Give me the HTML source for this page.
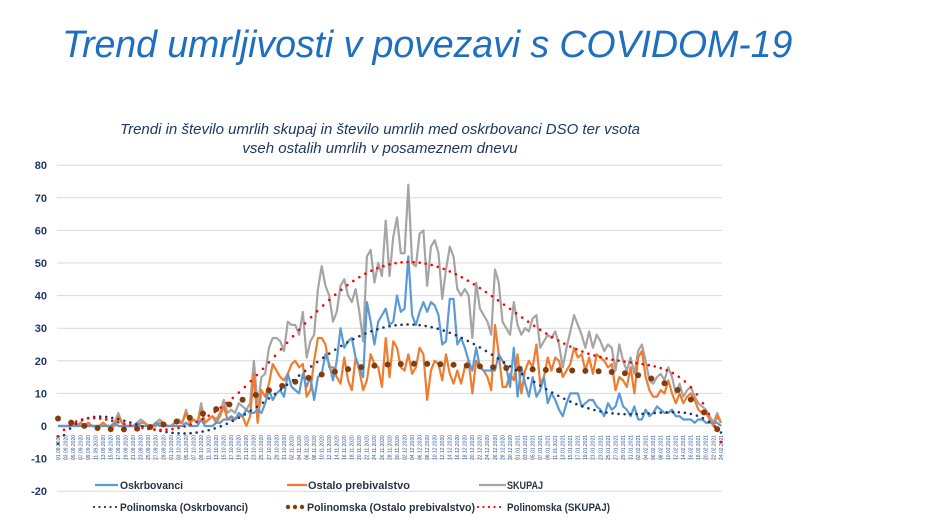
<!DOCTYPE html>
<html><head><meta charset="utf-8"><style>
body{margin:0;background:#fff;width:940px;height:529px;overflow:hidden;font-family:"Liberation Sans",sans-serif}
#title{position:absolute;left:62px;top:23px;font-size:37.6px;font-style:italic;color:#1F6FC0;letter-spacing:-0.1px;white-space:nowrap}
svg{position:absolute;left:0;top:0}
</style></head><body>
<div id="title">Trend umrljivosti v povezavi s COVIDOM-19</div>
<svg id="chart" width="940" height="529"></svg>
<script>
const startDate=[2020,8,1];
const nDays=177;
const osk=[0,0,0,0,0,0,0,0,0,0, 0,0,0,0,0,1,0,0,0,0, 0,1,0,0,0,0,1,0,0,0, 0,0,0,0,1,0,0,0,2,0,
0,0,1,1,2,2,3,2,4,3, 5,4,4,5,4,7,11,8,10,11, 9,16,12,11,10,16,12,15,8,15,
16,22,19,14,20,30,24,26,27,21, 18,15,38,32,25,32,34,36,31,32, 40,35,36,52,34,31,35,38,35,38,
37,34,25,26,39,39,25,27,24,20, 17,24,18,17,17,17,17,22,20,18, 12,24,9,18,13,9,15,9,11,15,
7,10,8,5,3,7,10,10,10,6, 7,8,8,6,5,3,7,5,6,10, 6,5,3,6,2,2,5,3,4,6, 5,4,4,5,3,3,2,2,2,1, 2,2,1,1,1,1,0];
const ost=[0,0,0,0,1,0,1,0,1,0, 0,0,1,0,0,0,3,1,0,0, 0,0,1,1,0,0,0,1,1,0, 0,1,1,1,4,1,2,1,5,1,
2,3,1,3,6,2,2,2,3,3, 0,3,16,1,11,9,13,19,17,15, 14,16,19,20,18,19,9,11,20,27,
27,25,18,18,15,13,21,14,11,21, 17,11,14,22,19,18,12,27,15,26, 24,18,17,22,16,18,24,22,8,17,
20,19,14,22,16,13,17,13,18,20, 10,20,18,17,15,11,31,22,12,12, 16,14,22,10,17,20,18,25,13,15,
21,17,21,20,15,17,19,24,21,22, 17,21,16,22,21,20,18,19,11,15, 14,12,18,10,21,23,15,11,9,9, 11,10,14,10,7,10,7,9,10,8, 5,4,4,2,0,3,1];
const sk=[0,0,0,0,1,0,1,0,1,0, 0,0,1,0,0,1,4,1,0,0, 0,1,2,1,0,0,1,2,1,0, 0,1,2,1,5,1,2,1,7,1,
2,3,2,4,8,4,5,4,7,6, 5,7,20,6,15,16,24,27,27,26, 23,32,31,31,28,35,21,26,28,42,
49,43,40,32,35,43,45,40,38,42, 35,26,52,54,44,50,46,63,46,58, 64,53,53,74,50,49,59,60,43,55,
57,53,39,48,55,52,42,40,42,40, 27,44,36,34,32,28,48,44,32,30, 28,38,31,28,30,29,33,34,24,26,
28,27,29,25,18,24,29,34,31,28, 24,29,24,28,26,23,25,24,17,25, 20,17,21,16,23,25,20,14,13,15, 16,14,18,15,10,13,9,11,12,9, 7,6,5,3,1,4,1];
const yTicks=[80,70,60,50,40,30,20,10,0,-10,-20];

const svg=document.getElementById('chart');
const NS='http://www.w3.org/2000/svg';
const X0=58,X1=721,Y0=426,PER=3.26;
const xs=i=>X0+i*(X1-X0)/(nDays-1);
const ys=v=>Y0-v*PER;
function mk(t,a,p){const e=document.createElementNS(NS,t);for(const k in a)e.setAttribute(k,a[k]);(p||svg).appendChild(e);return e;}

const st1=mk('text',{x:380,y:134,'text-anchor':'middle','font-size':15,'font-style':'italic',fill:'#1F3864'});
st1.textContent='Trendi in število umrlih skupaj in število umrlih med oskrbovanci DSO ter vsota';


const st2=mk('text',{x:380,y:153,'text-anchor':'middle','font-size':15,'font-style':'italic',fill:'#1F3864'});
st2.textContent='vseh ostalih umrlih v posameznem dnevu';



yTicks.forEach(v=>{
  const g=mk('line',{x1:57,x2:722,y1:ys(v),y2:ys(v),stroke:'#D9D9D9','stroke-width':1});
  
  
  const t=mk('text',{x:47,y:ys(v)+4,'text-anchor':'end','font-size':11,'font-weight':'bold',fill:'#1F3864'});
  t.textContent=v;
  
  
});

const d0=new Date(Date.UTC(startDate[0],startDate[1],startDate[2]));
for(let i=0;i<nDays;i+=2){
  const d=new Date(d0.getTime()+i*86400000);
  const s=String(d.getUTCDate()).padStart(2,'0')+'.'+String(d.getUTCMonth()+1).padStart(2,'0')+'.'+d.getUTCFullYear();
  const x=xs(i)+1.8;
  const t=mk('text',{x:x,y:460,'font-size':5,fill:'#2E5597',transform:`rotate(-90 ${x} 460)`});
  t.textContent=s;
  
  
}

function polyfit(ys_,deg){
  const n=ys_.length,m=deg+1;const A=[];for(let r=0;r<m;r++){A.push(new Array(m+1).fill(0));}
  for(let i=0;i<n;i++){const u=2*i/(n-1)-1;const p=[];let q=1;for(let k=0;k<2*m;k++){p.push(q);q*=u;}
    for(let r=0;r<m;r++){for(let c=0;c<m;c++)A[r][c]+=p[r+c];A[r][m]+=p[r]*ys_[i];}}
  for(let c=0;c<m;c++){let piv=c;for(let r=c+1;r<m;r++)if(Math.abs(A[r][c])>Math.abs(A[piv][c]))piv=r;const tmp=A[c];A[c]=A[piv];A[piv]=tmp;
    for(let r=0;r<m;r++){if(r===c)continue;const f=A[r][c]/A[c][c];for(let k=c;k<=m;k++)A[r][k]-=f*A[c][k];}}
  const co=A.map((r,i)=>r[m]/r[i]);
  return x=>{const u=2*x/(n-1)-1;let s=0,q=1;for(let k=0;k<m;k++){s+=co[k]*q;q*=u;}return s;};
}
function line(arr,color,name){
  const p=mk('polyline',{points:arr.map((v,i)=>xs(i)+','+ys(v)).join(' '),fill:'none',stroke:color,'stroke-width':2.2,'stroke-linejoin':'round'});
  
  
}
function dotted(f,color,r,step,name){
  const g=mk('g',{fill:color});
  
  
  for(let i=0;i<=nDays-1+1e-6;i+=step){const v=f(i);if(v<-12)continue;mk('circle',{cx:xs(i),cy:ys(v),r:r},g);}
}
line(sk,'#A5A5A5','series-skupaj');
line(ost,'#ED7D31','series-ostalo-prebivalstvo');
line(osk,'#5B9BD5','series-oskrbovanci');
dotted(polyfit(ost,6),'#843C0C',3,3.5,'trend-ostalo-prebivalstvo');
dotted(polyfit(osk,6),'#1F3864',1.3,1.6,'trend-oskrbovanci');
dotted(polyfit(sk,6),'#FF0000',1.3,1.6,'trend-skupaj');

function leg(x,x2,y,kind,color,tx,label,name,w){
  const g=mk('g',{});
  
  
  if(kind==='line')mk('line',{x1:x,x2:x2,y1:y,y2:y,stroke:color,'stroke-width':2.2},g);
  else if(kind==='big'){for(let k=0;k<3;k++)mk('circle',{cx:x+2+k*7,cy:y,r:2.2,fill:color},g);}
  else{for(let k=0;k<5;k++)mk('circle',{cx:x+1+k*5.5,cy:y,r:1.1,fill:color},g);}
  const t=mk('text',{x:tx,y:y+4,'font-size':11,'font-weight':'bold',fill:'#2a3340',textLength:w,lengthAdjust:'spacingAndGlyphs'},g);
  t.textContent=label;
}
leg(95,118,485,'line','#5B9BD5',120,'Oskrbovanci','legend-oskrbovanci',63);
leg(287,307,485,'line','#ED7D31',308,'Ostalo prebivalstvo','legend-ostalo-prebivalstvo',102);
leg(479,506,485,'line','#A5A5A5',507,'SKUPAJ','legend-skupaj',36);
leg(93,0,507,'dot','#1F3864',120,'Polinomska (Oskrbovanci)','legend-trend-oskrbovanci',128);
leg(286,0,507,'big','#843C0C',307,'Polinomska (Ostalo prebivalstvo)','legend-trend-ostalo',168);
leg(477,0,507,'dot','#FF0000',507,'Polinomska (SKUPAJ)','legend-trend-skupaj',103);
</script>
</body></html>
